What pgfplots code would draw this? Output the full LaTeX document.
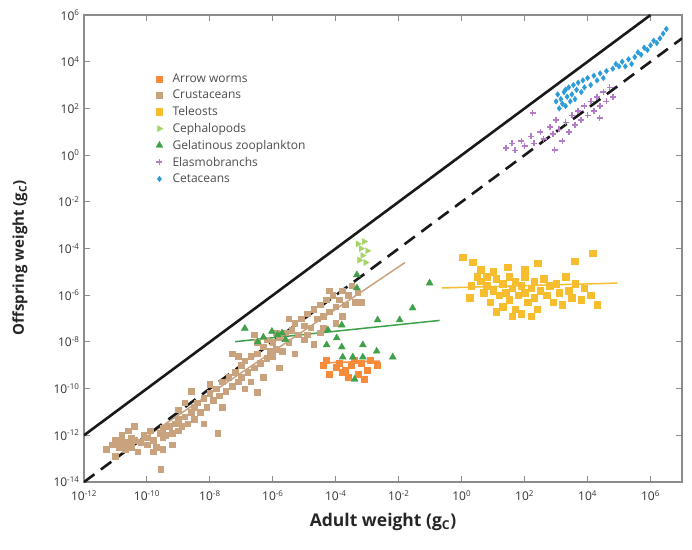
\documentclass[border=0pt]{standalone}
\usepackage{fontspec}
\setmainfont{Open Sans}
\usepackage{pgfplots}
\usepackage{pgfplotstable}
\pgfplotsset{compat=1.18}

\definecolor{arrowc}{HTML}{F58B3B}
\definecolor{crustc}{HTML}{C9A27E}
\definecolor{telec}{HTML}{F6BE2F}
\definecolor{cephc}{HTML}{A6D46A}
\definecolor{gelc}{HTML}{3FA04A}
\definecolor{elasc}{HTML}{B47CC6}
\definecolor{cetc}{HTML}{2C9BD9}

% all values are log10 of carbon weight (g C)
\pgfplotstableread{
lx ly
-4.4 -9.0
-4.3 -8.8
-4.2 -9.4
-4.0 -9.1
-3.9 -8.9
-3.8 -9.3
-3.7 -9.2
-3.6 -9.5
-3.5 -9.0
-3.4 -8.8
-3.3 -9.4
-3.2 -8.9
-3.1 -9.6
-3.0 -9.2
-2.9 -8.8
-2.7 -9.0
}\arrowworms

\pgfplotstableread{
lx ly
-11.3 -12.6
-11.1 -12.4
-11.0 -12.2
-11.0 -12.9
-10.9 -12.5
-10.8 -12.3
-10.8 -12.0
-10.7 -12.6
-10.6 -12.3
-10.6 -11.8
-10.5 -12.1
-10.5 -12.5
-10.4 -12.2
-10.4 -11.6
-10.3 -12.7
-10.2 -12.3
-10.1 -12.0
-10.0 -12.4
-10.0 -12.1
-9.9 -11.8
-9.8 -12.2
-9.8 -12.7
-9.7 -12.5
-9.6 -11.9
-9.56 -13.45
-9.5 -12.1
-9.5 -11.7
-9.5 -12.6
-9.4 -12.0
-9.3 -11.6
-9.2 -11.9
-9.2 -12.4
-9.1 -11.5
-9.0 -11.8
-9.0 -11.3
-9.0 -10.9
-8.9 -11.6
-8.8 -11.2
-8.8 -10.6
-8.7 -11.5
-8.6 -11.0
-8.6 -10.1
-8.5 -11.3
-8.5 -10.8
-8.4 -10.6
-8.3 -11.0
-8.2 -10.4
-8.2 -11.5
-8.1 -10.8
-8.0 -10.2
-8.0 -9.8
-7.9 -10.5
-7.8 -10.0
-7.75 -11.9
-7.7 -10.3
-7.6 -9.7
-7.6 -10.8
-7.5 -10.1
-7.4 -9.5
-7.3 -9.9
-7.3 -8.5
-7.2 -9.3
-7.1 -9.7
-7.1 -8.6
-7.0 -9.0
-7.0 -9.5
-6.9 -8.8
-6.9 -10.0
-6.8 -9.3
-6.7 -8.6
-6.7 -9.7
-6.6 -9.1
-6.6 -7.7
-6.5 -8.5
-6.5 -10.15
-6.5 -8.0
-6.4 -8.9
-6.3 -8.2
-6.3 -9.5
-6.2 -8.7
-6.2 -7.9
-6.1 -8.4
-6.0 -8.0
-6.0 -8.6
-5.9 -8.3
-5.9 -7.6
-5.8 -7.8
-5.8 -9.1
-5.7 -8.4
-5.6 -7.6
-5.5 -8.0
-5.5 -7.0
-5.4 -7.5
-5.3 -7.2
-5.3 -8.5
-5.2 -7.7
-5.1 -7.0
-5.0 -7.3
-5.0 -7.9
-4.9 -6.8
-4.9 -7.7
-4.8 -7.4
-4.7 -6.6
-4.7 -8.1
-4.6 -7.0
-4.5 -6.4
-4.5 -7.6
-4.4 -6.9
-4.4 -7.4
-4.3 -6.2
-4.2 -6.7
-4.2 -5.8
-4.1 -6.0
-4.0 -6.5
-4.0 -7.2
-3.9 -6.2
-3.8 -5.8
-3.8 -6.9
-3.7 -6.4
-3.6 -6.0
-3.5 -5.6
-3.4 -6.3
-3.3 -5.9
-3.2 -6.3
}\crustaceans

\pgfplotstableread{
lx ly
0.03 -4.36
0.35 -4.58
0.3 -5.6
0.25 -6.1
0.5 -5.2
0.6 -5.4
0.6 -4.9
0.7 -5.9
0.8 -5.6
0.8 -5.2
0.9 -6.3
1.0 -5.8
1.0 -5.0
1.1 -5.3
1.1 -6.7
1.2 -6.0
1.3 -5.5
1.3 -6.5
1.4 -5.9
1.46 -4.79
1.5 -5.2
1.5 -6.2
1.6 -5.7
1.6 -6.9
1.7 -6.6
1.7 -5.4
1.8 -6.0
1.9 -5.6
1.9 -6.8
2.0 -5.9
2.0 -5.2
2.0 -4.9
2.1 -6.3
2.2 -5.7
2.2 -6.9
2.3 -6.1
2.3 -5.4
2.41 -4.62
2.4 -6.6
2.5 -5.8
2.6 -5.3
2.7 -6.0
2.8 -5.6
2.9 -6.3
3.0 -5.5
3.1 -5.9
3.2 -6.4
3.3 -5.2
3.4 -5.8
3.5 -6.1
3.59 -4.54
3.6 -5.5
3.8 -6.2
3.9 -5.7
4.1 -6.0
4.16 -4.19
4.3 -6.4
}\teleosts

\pgfplotstableread{
lx ly
-3.3 -3.8
-3.2 -4.0
-3.1 -3.7
-3.15 -4.3
-3.0 -4.1
-3.25 -4.5
-3.05 -4.6
}\cephalopods

\pgfplotstableread{
lx ly
-6.89 -7.42
-6.48 -8.0
-6.3 -7.8
-6.03 -7.55
-5.85 -7.7
-5.71 -7.62
-5.6 -7.9
-4.25 -7.49
-3.97 -7.83
-3.81 -7.28
-4.29 -8.13
-3.81 -8.22
-3.33 -5.13
-3.33 -5.69
-3.14 -8.13
-2.7 -8.4
-2.67 -7.06
-2.19 -8.65
-1.97 -7.06
-1.56 -6.55
-3.46 -8.65
-3.78 -8.65
-3.14 -8.65
-3.4 -9.6
-1.02 -5.48
}\gelatinous

\pgfplotstableread{
lx ly
1.4 0.3
1.6 0.5
1.7 0.2
1.9 0.6
2.0 0.4
2.2 0.8
2.25 1.8
2.3 0.5
2.5 1.0
2.6 0.7
2.8 1.2
2.9 0.9
2.95 0.22
3.0 1.5
3.1 1.1
3.2 0.6
3.3 1.4
3.4 1.0
3.5 1.7
3.6 1.3
3.7 1.9
3.8 1.5
3.9 2.1
4.0 1.7
4.1 2.3
4.2 1.9
4.3 2.5
4.38 1.59
4.4 2.1
4.5 2.7
4.6 2.3
4.7 2.9
4.8 2.5
}\elasmobranchs

\pgfplotstableread{
lx ly
3.0 2.3
3.05 2.6
3.1 2.0
3.15 2.4
3.2 2.2
3.25 2.7
3.3 2.1
3.3 2.8
3.35 2.5
3.4 2.9
3.45 2.3
3.5 2.6
3.55 3.0
3.6 2.4
3.65 2.8
3.7 3.1
3.8 2.7
3.85 3.2
3.9 2.9
4.0 3.3
4.1 3.0
4.2 3.4
4.3 3.2
4.4 3.5
4.5 3.3
4.6 3.6
4.8 3.7
4.9 3.9
5.0 3.8
5.1 4.0
5.2 3.8
5.3 4.1
5.4 3.9
5.5 4.2
5.6 4.4
5.7 4.3
5.8 4.6
5.9 4.5
6.0 4.7
6.1 4.9
6.2 4.8
6.3 5.0
6.4 5.2
6.5 5.4
}\cetaceans

\begin{document}
\begin{tikzpicture}
\useasboundingbox (-84pt,-67pt) rectangle (608pt,482pt);
\begin{axis}[
  at={(0,0)}, anchor=south west,
  scale only axis, width=598pt, height=467pt,
  xmin=-12, xmax=7, ymin=-14, ymax=6,
  xtick={-12,-10,...,6}, ytick={-14,-12,...,6},
  xticklabels={10\textsuperscript{-12},10\textsuperscript{-10},10\textsuperscript{-8},10\textsuperscript{-6},10\textsuperscript{-4},10\textsuperscript{-2},10\textsuperscript{0},10\textsuperscript{2},10\textsuperscript{4},10\textsuperscript{6}},
  yticklabels={10\textsuperscript{-14},10\textsuperscript{-12},10\textsuperscript{-10},10\textsuperscript{-8},10\textsuperscript{-6},10\textsuperscript{-4},10\textsuperscript{-2},10\textsuperscript{0},10\textsuperscript{2},10\textsuperscript{4},10\textsuperscript{6}},
  tick align=inside, major tick length=6pt,
  axis line style={black!45, line width=1.3pt},
  tick style={black!45, line width=1pt},
  tick label style={font=\fontsize{12}{13}\selectfont, text=black!80},
  xticklabel style={yshift=-5pt},
  yticklabel style={xshift=-1pt},
  xlabel={\textbf{Adult weight (g\textsubscript{C})}},
  ylabel={\textbf{Offspring weight (g\textsubscript{C})}},
  label style={text=black!85},
  xlabel style={font=\fontsize{17.5}{19}\selectfont, at={(axis description cs:0.5,-0.0857)}, anchor=center},
  ylabel style={font=\fontsize{15}{17}\selectfont, at={(axis description cs:-0.107,0.48)}, anchor=center},
  legend style={at={(0.115,0.883)}, anchor=north west, draw=none, fill=none,
    font=\fontsize{12}{14}\selectfont, text=black!70, row sep=2.2pt},
  legend image code/.code={%
    \path[draw=none, fill=none] (0cm,0cm) -- (0.45cm,0cm);
    \draw[#1] plot coordinates {(0.06cm,0cm)};},
  legend cell align=left,
  only marks,
]
\addplot[mark=square*, color=arrowc, mark size=3pt] table[x=lx,y=ly] {\arrowworms};
\addlegendentry{Arrow worms}
\addplot[mark=square*, color=crustc, mark size=2.8pt] table[x=lx,y=ly] {\crustaceans};
\addlegendentry{Crustaceans}
\addplot[mark=square*, color=telec, mark size=3.2pt] table[x=lx,y=ly] {\teleosts};
\addlegendentry{Teleosts}
\addplot[mark=triangle*, mark options={rotate=-90}, color=cephc, mark size=3.5pt] table[x=lx,y=ly] {\cephalopods};
\addlegendentry{Cephalopods}
\addplot[mark=triangle*, color=gelc, mark size=4pt] table[x=lx,y=ly] {\gelatinous};
\addlegendentry{Gelatinous zooplankton}
\addplot[mark=+, color=elasc, mark size=3pt, mark options={line width=1.6pt}] table[x=lx,y=ly] {\elasmobranchs};
\addlegendentry{Elasmobranchs}
\addplot[mark=diamond*, color=cetc, mark size=2.8pt] table[x=lx,y=ly] {\cetaceans};
\addlegendentry{Cetaceans}

% fitted regressions per group
\addplot[no marks, sharp plot, crustc, line width=1.5pt, forget plot] coordinates {(-11,-12.95) (-1.8,-4.6)};
\addplot[no marks, sharp plot, gelc, line width=1.5pt, forget plot] coordinates {(-7.2,-7.99) (-0.7,-7.08)};
\addplot[no marks, sharp plot, telec, line width=1.5pt, forget plot] coordinates {(-0.63,-5.69) (4.95,-5.48)};
\addplot[no marks, sharp plot, arrowc, line width=1.5pt, forget plot] coordinates {(-4.5,-8.9) (-2.6,-8.82)};

% 1:1 line and 1:100 line
\addplot[no marks, sharp plot, black!90, line width=2.6pt, forget plot] coordinates {(-12,-12) (6,6)};
\addplot[no marks, sharp plot, black!90, line width=2.6pt, dash pattern=on 13pt off 8pt, forget plot] coordinates {(-12,-14) (7,5)};
\end{axis}
\end{tikzpicture}
\end{document}
